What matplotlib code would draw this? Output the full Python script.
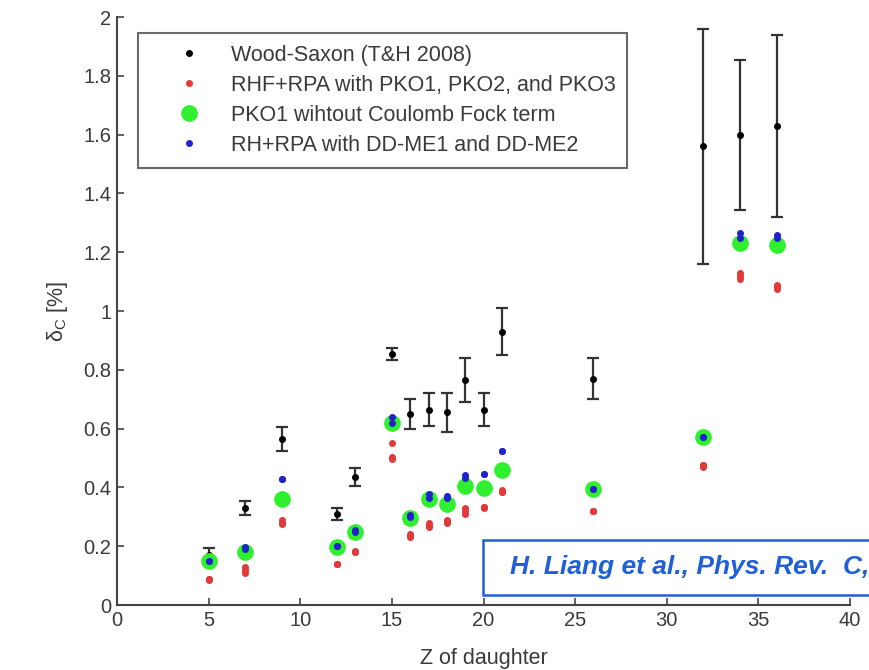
import matplotlib
matplotlib.use("Agg")
import matplotlib.pyplot as plt
from matplotlib.lines import Line2D
from matplotlib.patches import Rectangle

plt.rcParams['font.family'] = ['Liberation Sans', 'DejaVu Sans']

# Wood-Saxon (T&H 2008) with uncertainties
z_ws = [5, 7, 9, 12, 13, 15, 16, 17, 18, 19, 20, 21, 26, 32, 34, 36]
dc_ws = [0.17, 0.33, 0.565, 0.31, 0.435, 0.855, 0.65, 0.665, 0.655, 0.765, 0.665, 0.93, 0.77, 1.56, 1.60, 1.63]
err_ws = [0.025, 0.025, 0.04, 0.02, 0.03, 0.02, 0.05, 0.055, 0.065, 0.075, 0.055, 0.08, 0.07, 0.40, 0.255, 0.31]

# RHF+RPA, PKO1 / PKO2 / PKO3
z_rhf = [5, 7, 9, 12, 13, 15, 16, 17, 18, 19, 20, 21, 26, 32, 34, 36]
dc_pko1 = [0.09, 0.13, 0.29, 0.14, 0.18, 0.55, 0.24, 0.28, 0.29, 0.33, 0.335, 0.39, 0.32, 0.475, 1.13, 1.09]
dc_pko2 = [0.085, 0.11, 0.28, 0.14, 0.18, 0.505, 0.23, 0.265, 0.28, 0.31, 0.335, 0.385, 0.32, 0.475, 1.12, 1.075]
dc_pko3 = [0.09, 0.12, 0.275, 0.14, 0.185, 0.495, 0.235, 0.27, 0.285, 0.32, 0.33, 0.385, 0.32, 0.47, 1.11, 1.08]

# PKO1 without the Coulomb Fock term
z_nocf = [5, 7, 9, 12, 13, 15, 16, 17, 18, 19, 20, 21, 26, 32, 34, 36]
dc_nocf = [0.15, 0.18, 0.36, 0.197, 0.248, 0.62, 0.296, 0.36, 0.343, 0.405, 0.398, 0.459, 0.395, 0.57, 1.231, 1.225]

# RH+RPA, DD-ME1 / DD-ME2
z_rh = [5, 7, 9, 12, 13, 15, 16, 17, 18, 19, 20, 21, 26, 32, 34, 36]
dc_ddme1 = [0.15, 0.197, 0.428, 0.20, 0.255, 0.64, 0.306, 0.377, 0.37, 0.442, 0.445, 0.524, 0.395, 0.57, 1.265, 1.26]
dc_ddme2 = [0.15, 0.19, 0.428, 0.20, 0.25, 0.62, 0.30, 0.365, 0.365, 0.432, 0.445, 0.524, 0.395, 0.57, 1.25, 1.25]

labels = ['Wood-Saxon (T&H 2008)',
          'RHF+RPA with PKO1, PKO2, and PKO3',
          'PKO1 wihtout Coulomb Fock term',
          'RH+RPA with DD-ME1 and DD-ME2']

c_red = '#e03a3a'
c_green = '#2ef02e'
c_blue = '#2222cc'
c_axis = '#444444'
c_text = '#3a3a3a'

fig = plt.figure(figsize=(8.7, 6.7), dpi=100)
ax = fig.add_axes([0.1345, 0.097, 0.8425, 0.8776])

ax.errorbar(z_ws, dc_ws, yerr=err_ws, fmt='.', color='k', ms=8,
            ecolor='#333333', elinewidth=1.6, capsize=4.5, capthick=1.6, zorder=2)
for vals in (dc_pko1, dc_pko2, dc_pko3):
    ax.plot(z_rhf, vals, '.', color=c_red, ms=8, zorder=3)
ax.plot(z_nocf, dc_nocf, 'o', color=c_green, mec=c_green, ms=11, zorder=4)
for vals in (dc_ddme1, dc_ddme2):
    ax.plot(z_rh, vals, '.', color=c_blue, ms=8, zorder=5)

ax.set_xlim(0, 40)
ax.set_ylim(0, 2)
ax.set_xticks(range(0, 41, 5))
ax.set_yticks([0, 0.2, 0.4, 0.6, 0.8, 1, 1.2, 1.4, 1.6, 1.8, 2])
ax.set_yticklabels(['0', '0.2', '0.4', '0.6', '0.8', '1', '1.2', '1.4', '1.6', '1.8', '2'])

for side in ('top', 'right'):
    ax.spines[side].set_visible(False)
for side in ('left', 'bottom'):
    ax.spines[side].set_color(c_axis)
    ax.spines[side].set_linewidth(1.5)
ax.tick_params(direction='in', length=5, width=1.2, color=c_axis,
               labelsize=14.5, labelcolor=c_text, pad=4)

ax.set_xlabel('Z of daughter', fontsize=15.5, color=c_text, labelpad=13)
ax.set_ylabel(r'$\mathregular{\delta_C}$ [%]', fontsize=15.5, color=c_text, labelpad=10)

handles = [
    Line2D([], [], ls='none', marker='.', color='k', ms=8),
    Line2D([], [], ls='none', marker='.', color=c_red, ms=8),
    Line2D([], [], ls='none', marker='o', color=c_green, ms=11),
    Line2D([], [], ls='none', marker='.', color=c_blue, ms=8),
]
leg = ax.legend(handles, labels, loc='upper left', bbox_to_anchor=(0.029, 0.973),
                borderaxespad=0, fontsize=15.5, frameon=True, fancybox=False,
                handlelength=3.6, handletextpad=0.15, labelspacing=0.42,
                borderpad=0.55, labelcolor=c_text)
leg.get_frame().set_edgecolor(c_axis)
leg.get_frame().set_linewidth(1.5)

# citation box, running off the right edge
fig.patches.append(Rectangle((483 / 870, 1 - 595 / 670), 420 / 870, 55 / 670,
                             transform=fig.transFigure, facecolor='white',
                             edgecolor='#1f5fd8', linewidth=1.8, zorder=10))
fig.text(510 / 870, 1 - 567 / 670, 'H. Liang et al., Phys. Rev.  C,',
         color='#1f5fd8', fontsize=19, fontweight='bold', fontstyle='italic',
         va='center', ha='left', zorder=11)

fig.savefig('out.png', dpi=100)
